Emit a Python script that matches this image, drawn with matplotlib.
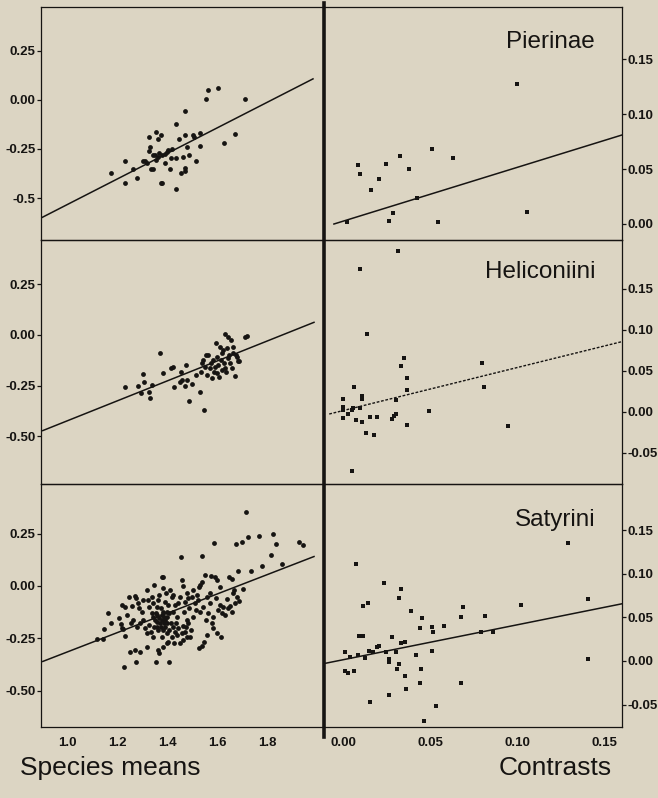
import numpy as np
import matplotlib
matplotlib.use("Agg")
import matplotlib.pyplot as plt
from matplotlib.lines import Line2D

plt.rcParams['font.family'] = ['Liberation Sans', 'DejaVu Sans']

BG = '#dcd5c3'
INK = '#161412'

# Species means (x = log size, y = residual trait)
pierinae_means = [
    (1.175, -0.374), (1.231, -0.310), (1.231, -0.422), (1.263, -0.354), (1.280, -0.398),
    (1.305, -0.310), (1.313, -0.310), (1.320, -0.320), (1.328, -0.190), (1.331, -0.238),
    (1.328, -0.259), (1.335, -0.354), (1.345, -0.354), (1.345, -0.281), (1.353, -0.281),
    (1.356, -0.163), (1.364, -0.201), (1.365, -0.289), (1.368, -0.272), (1.375, -0.422),
    (1.377, -0.179), (1.380, -0.422), (1.381, -0.281), (1.392, -0.276), (1.392, -0.323),
    (1.401, -0.264), (1.412, -0.354), (1.416, -0.298), (1.421, -0.252), (1.436, -0.298),
    (1.436, -0.124), (1.437, -0.456), (1.449, -0.201), (1.455, -0.374), (1.464, -0.289),
    (1.471, -0.349), (1.473, -0.056), (1.473, -0.179), (1.473, -0.361), (1.479, -0.238),
    (1.487, -0.279), (1.505, -0.179), (1.509, -0.187), (1.517, -0.310), (1.532, -0.170),
    (1.532, -0.235), (1.556, 0.003), (1.565, 0.051), (1.605, 0.061), (1.629, -0.218),
    (1.673, -0.175), (1.712, 0.007), (1.357, -0.306), (1.405, -0.255),
]

heliconiini_means = [
    (1.233, -0.258), (1.285, -0.251), (1.296, -0.288), (1.305, -0.194), (1.309, -0.230),
    (1.328, -0.279), (1.331, -0.309), (1.339, -0.247), (1.371, -0.090), (1.384, -0.189),
    (1.416, -0.164), (1.425, -0.156), (1.428, -0.258), (1.452, -0.230), (1.455, -0.184),
    (1.461, -0.222), (1.473, -0.250), (1.476, -0.148), (1.481, -0.222), (1.489, -0.325),
    (1.499, -0.243), (1.515, -0.197), (1.532, -0.279), (1.535, -0.181), (1.539, -0.140),
    (1.543, -0.123), (1.547, -0.370), (1.552, -0.156), (1.556, -0.099), (1.559, -0.197),
    (1.565, -0.099), (1.572, -0.164), (1.576, -0.140), (1.579, -0.214), (1.585, -0.123),
    (1.589, -0.181), (1.592, -0.156), (1.596, -0.041), (1.599, -0.107), (1.601, -0.189),
    (1.605, -0.148), (1.609, -0.205), (1.612, -0.058), (1.615, -0.123), (1.619, -0.173),
    (1.621, -0.090), (1.625, -0.074), (1.628, -0.140), (1.631, -0.164), (1.633, 0.003),
    (1.636, -0.181), (1.639, -0.066), (1.643, -0.008), (1.645, -0.115), (1.649, -0.099),
    (1.652, -0.140), (1.656, -0.025), (1.659, -0.164), (1.663, -0.058), (1.665, -0.090),
    (1.672, -0.202), (1.676, -0.099), (1.681, -0.107), (1.685, -0.127), (1.689, -0.131),
    (1.712, -0.012), (1.719, -0.005),
]

satyrini_means = [
    # lower-left outliers
    (1.119, -0.255), (1.145, -0.255), (1.148, -0.205), (1.165, -0.131), (1.175, -0.175),
    (1.209, -0.154), (1.215, -0.182), (1.219, -0.202), (1.225, -0.207), (1.232, -0.239),
    (1.228, -0.385), (1.252, -0.318), (1.272, -0.306), (1.276, -0.365), (1.292, -0.317),
    (1.319, -0.290), (1.356, -0.365), (1.409, -0.365), (1.365, -0.306), (1.369, -0.322),
    (1.385, -0.290), (1.399, -0.274), (1.405, -0.266),
    # upper part of main cloud
    (1.219, -0.091), (1.232, -0.099), (1.249, -0.051), (1.259, -0.096), (1.272, -0.048),
    (1.276, -0.059), (1.285, -0.083), (1.289, -0.107), (1.299, -0.123), (1.305, -0.067),
    (1.319, -0.019), (1.325, -0.067), (1.329, -0.102), (1.339, -0.051), (1.345, -0.083),
    (1.348, 0.005), (1.356, -0.127), (1.359, -0.099), (1.365, -0.067), (1.369, -0.043),
    (1.375, -0.107), (1.379, 0.041), (1.383, 0.045), (1.385, -0.011), (1.388, -0.147),
    (1.392, -0.075), (1.396, -0.035), (1.399, -0.123), (1.405, -0.091), (1.412, -0.019),
    (1.415, -0.178), (1.419, -0.054), (1.423, -0.123), (1.425, -0.043), (1.432, -0.091),
    (1.436, -0.178), (1.441, -0.147), (1.445, -0.083), (1.452, -0.051), (1.459, 0.029),
    (1.463, 0.000), (1.468, -0.123), (1.472, -0.075), (1.476, -0.194), (1.479, -0.035),
    (1.481, -0.162), (1.485, -0.059), (1.489, -0.107), (1.492, -0.242), (1.495, -0.210),
    (1.499, -0.051), (1.503, -0.019), (1.505, -0.147), (1.512, -0.083), (1.516, -0.115),
    (1.519, -0.043), (1.525, -0.067), (1.529, -0.003),
    # lower part of main cloud
    (1.239, -0.139), (1.255, -0.178), (1.265, -0.162), (1.279, -0.194), (1.292, -0.178),
    (1.305, -0.162), (1.312, -0.202), (1.319, -0.226), (1.329, -0.186), (1.335, -0.218),
    (1.343, -0.242), (1.348, -0.194), (1.359, -0.170), (1.365, -0.210), (1.372, -0.178),
    (1.379, -0.242), (1.385, -0.210), (1.392, -0.194), (1.399, -0.226), (1.409, -0.210),
    (1.419, -0.242), (1.425, -0.194), (1.432, -0.218), (1.439, -0.234), (1.445, -0.202),
    (1.452, -0.271), (1.459, -0.223), (1.465, -0.191), (1.472, -0.218), (1.479, -0.242),
    (1.485, -0.178), (1.463, -0.258), (1.428, -0.274),
    (1.339, -0.131), (1.345, -0.147), (1.352, -0.162), (1.361, -0.139), (1.369, -0.154),
    (1.379, -0.139), (1.385, -0.123), (1.392, -0.162), (1.401, -0.147), (1.409, -0.131),
    (1.379, -0.162), (1.359, -0.194), (1.375, -0.194), (1.388, -0.178), (1.399, -0.178),
    # right-hand cloud
    (1.532, -0.123), (1.539, 0.018), (1.532, 0.005), (1.545, -0.099), (1.552, 0.051),
    (1.556, -0.162), (1.559, -0.054), (1.565, -0.131), (1.572, -0.035), (1.575, 0.048),
    (1.572, -0.080), (1.579, -0.178), (1.585, -0.147), (1.592, 0.041), (1.596, -0.059),
    (1.601, 0.029), (1.605, -0.115), (1.612, -0.003), (1.612, -0.091), (1.615, -0.242),
    (1.619, -0.131), (1.625, -0.099), (1.632, -0.139), (1.639, -0.064), (1.645, -0.107),
    (1.652, -0.096), (1.659, -0.123), (1.665, -0.035), (1.672, -0.083), (1.679, -0.054),
    (1.687, -0.072), (1.529, -0.295), (1.539, -0.285), (1.548, -0.269), (1.585, -0.202),
    (1.599, -0.226), (1.561, -0.234), (1.649, 0.041), (1.661, 0.034), (1.668, -0.019),
    (1.705, -0.013), (1.685, 0.069), (1.736, 0.072), (1.779, 0.094), (1.816, 0.147),
    (1.860, 0.104),
    # upper outliers
    (1.455, 0.137), (1.541, 0.143), (1.587, 0.204), (1.675, 0.201), (1.699, 0.209),
    (1.715, 0.352), (1.724, 0.236), (1.768, 0.240), (1.823, 0.248), (1.836, 0.199),
    (1.928, 0.210), (1.945, 0.194),
]

# Independent contrasts
pierinae_contrasts = [
    (0.0021, 0.0015), (0.0086, 0.0537), (0.0096, 0.0453), (0.0161, 0.0307),
    (0.0209, 0.0407), (0.0245, 0.0546), (0.0262, 0.0024), (0.0289, 0.0097),
    (0.0326, 0.0619), (0.0377, 0.0501), (0.0425, 0.0234), (0.0510, 0.0683),
    (0.0548, 0.0015), (0.0632, 0.0604), (0.1002, 0.1275), (0.1056, 0.0109),
]

heliconiini_contrasts = [
    (0.0318, 0.196), (0.0096, 0.174), (0.0140, 0.0943), (0.0351, 0.0654),
    (0.0335, 0.0557), (0.0366, 0.0415), (0.0366, 0.0260), (0.0307, 0.0138),
    (0.0063, 0.0297), (0.0002, 0.0154), (0.0002, 0.0061), (0.0002, 0.0020),
    (-0.0002, -0.0073), (0.0031, -0.0028), (0.0050, 0.0020), (0.0059, 0.0041),
    (0.0098, 0.0041), (0.0109, 0.0150), (0.0111, 0.0191), (0.0075, -0.0106),
    (0.0109, -0.0126), (0.0155, -0.0069), (0.0197, -0.0061), (0.0130, -0.0260),
    (0.0180, -0.0289), (0.0054, -0.0720), (0.0280, -0.0093), (0.0293, -0.0049),
    (0.0307, -0.0028), (0.0368, -0.0167), (0.0492, 0.0008), (0.0797, 0.0598),
    (0.0810, 0.0305), (0.0946, -0.0175),
]

satyrini_contrasts = [
    (0.0013, 0.0099), (0.0013, -0.0115), (0.0027, -0.0134), (0.0061, -0.0111),
    (0.0040, 0.0042), (0.0073, 0.1111), (0.0084, 0.0069), (0.0090, 0.0286),
    (0.0117, 0.0290), (0.0117, 0.0630), (0.0142, 0.0660), (0.0126, 0.0038),
    (0.0149, 0.0118), (0.0155, -0.0466), (0.0174, 0.0107), (0.0193, 0.0164),
    (0.0209, 0.0176), (0.0236, 0.0889), (0.0247, 0.0099), (0.0262, 0.0023),
    (0.0266, -0.0008), (0.0264, -0.0389), (0.0282, 0.0279), (0.0305, 0.0107),
    (0.0310, -0.0088), (0.0324, -0.0038), (0.0320, 0.0725), (0.0333, 0.0821),
    (0.0335, 0.0202), (0.0358, 0.0214), (0.0356, -0.0168), (0.0364, -0.0324),
    (0.0389, 0.0576), (0.0421, 0.0069), (0.0441, -0.0256), (0.0443, 0.0374),
    (0.0448, -0.0095), (0.0456, 0.0496), (0.0464, -0.0683), (0.0511, 0.0393),
    (0.0515, 0.0328), (0.0511, 0.0118), (0.0534, -0.0511), (0.0582, 0.0401),
    (0.0680, 0.0508), (0.0680, -0.0256), (0.0690, 0.0618), (0.0791, 0.0328),
    (0.0814, 0.0515), (0.0862, 0.0336), (0.1025, 0.0637), (0.1293, 0.1355),
    (0.1410, 0.0710), (0.1406, 0.0023),
]

# Fitted lines: (intercept, slope, x_start, x_end)
means_fits = [(-1.186, 0.652, 0.896, 1.984),
              (-0.916, 0.492, 0.903, 1.988),
              (-0.778, 0.462, 0.903, 1.988)]
contrast_fits = [(0.0025, 0.490, -0.0052, 0.160),
                 (0.0013, 0.525, -0.0079, 0.160),
                 (0.0014, 0.400, -0.0103, 0.160)]

group_names = ['Pierinae', 'Heliconiini', 'Satyrini']

means_yticks = [[0.25, 0.0, -0.25, -0.5], [0.25, 0.0, -0.25, -0.5], [0.25, 0.0, -0.25, -0.5]]
means_ylabels = [['0.25', '0.00', '-0.25', '-0.5'],
                 ['0.25', '0.00', '-0.25', '-0.50'],
                 ['0.25', '0.00', '-0.25', '-0.50']]
means_ylims = [(-0.714, 0.474), (-0.735, 0.468), (-0.674, 0.487)]

contrast_yticks = [[0.0, 0.05, 0.10, 0.15],
                   [-0.05, 0.0, 0.05, 0.10, 0.15],
                   [-0.05, 0.0, 0.05, 0.10, 0.15]]
contrast_ylabels = [['0.00', '0.05', '0.10', '0.15'],
                    ['-0.05', '0.00', '0.05', '0.10', '0.15'],
                    ['-0.05', '0.00', '0.05', '0.10', '0.15']]
contrast_ylims = [(-0.0146, 0.1976), (-0.0882, 0.2094), (-0.0756, 0.2027)]

means_xticks = [1.0, 1.2, 1.4, 1.6, 1.8]
means_xlabels = ['1.0', '1.2', '1.4', '1.6', '1.8']
contrast_xticks = [0.0, 0.05, 0.10, 0.15]
contrast_xlabels = ['0.00', '0.05', '0.10', '0.15']

means_data = [pierinae_means, heliconiini_means, satyrini_means]
contrast_data = [pierinae_contrasts, heliconiini_contrasts, satyrini_contrasts]

W, H = 658, 798
fig = plt.figure(figsize=(W / 100, H / 100), dpi=100, facecolor=BG)

# pixel layout of the grid
col_x = [(41, 324), (324, 622)]
row_y = [(7, 240), (240, 484), (484, 727)]


def px_axes(x0, x1, y0, y1):
    return fig.add_axes([x0 / W, 1 - y1 / H, (x1 - x0) / W, (y1 - y0) / H])


tick_font = dict(fontsize=9.5, fontweight='bold', color=INK)

for r in range(3):
    y0, y1 = row_y[r]

    # left column: species means
    ax = px_axes(col_x[0][0], col_x[0][1], y0, y1)
    ax.set_facecolor('none')
    pts = np.array(means_data[r])
    ax.scatter(pts[:, 0], pts[:, 1], s=12, marker='o', color=INK, linewidths=0)
    b0, b1, xs, xe = means_fits[r]
    xl = np.array([xs, xe])
    ax.plot(xl, b0 + b1 * xl, color=INK, lw=1.1)
    ax.set_xlim(0.896, 2.028)
    ax.set_ylim(*means_ylims[r])
    ax.set_yticks(means_yticks[r])
    ax.set_yticklabels(means_ylabels[r], **tick_font)
    ax.tick_params(axis='y', direction='out', length=3, width=0.9, pad=1, color=INK)
    if r == 2:
        ax.set_xticks(means_xticks)
        ax.set_xticklabels(means_xlabels, **tick_font)
        ax.tick_params(axis='x', length=0, pad=7)
    else:
        ax.set_xticks([])
    ax.spines['right'].set_visible(False)
    for s in ['left', 'top', 'bottom']:
        ax.spines[s].set_linewidth(0.9)
        ax.spines[s].set_color(INK)

    # right column: contrasts
    ax2 = px_axes(col_x[1][0], col_x[1][1], y0, y1)
    ax2.set_facecolor('none')
    pts = np.array(contrast_data[r])
    ax2.scatter(pts[:, 0], pts[:, 1], s=12, marker='s', color=INK, linewidths=0)
    b0, b1, xs, xe = contrast_fits[r]
    xl = np.array([xs, xe])
    if r == 1:
        ax2.plot(xl, b0 + b1 * xl, color=INK, lw=1.0, linestyle=(0, (2, 1.2)))
    else:
        ax2.plot(xl, b0 + b1 * xl, color=INK, lw=1.1)
    ax2.set_xlim(-0.0109, 0.1603)
    ax2.set_ylim(*contrast_ylims[r])
    ax2.yaxis.tick_right()
    ax2.set_yticks(contrast_yticks[r])
    ax2.set_yticklabels(contrast_ylabels[r], **tick_font)
    ax2.tick_params(axis='y', direction='out', length=3, width=0.9, pad=1, color=INK)
    if r == 2:
        ax2.set_xticks(contrast_xticks)
        ax2.set_xticklabels(contrast_xlabels, **tick_font)
        ax2.tick_params(axis='x', length=0, pad=7)
    else:
        ax2.set_xticks([])
    ax2.spines['left'].set_visible(False)
    for s in ['right', 'top', 'bottom']:
        ax2.spines[s].set_linewidth(0.9)
        ax2.spines[s].set_color(INK)
    ax2.text(0.91, [0.85, 0.869, 0.852][r], group_names[r], transform=ax2.transAxes,
             ha='right', va='center', fontsize=17.5, color=INK)

# thick divider between the two columns
fig.add_artist(Line2D([324 / W, 324 / W], [1 - 3 / H, 1 - 737 / H],
                      transform=fig.transFigure, color=INK, lw=2.6))

fig.text(20 / W, 1 - 768 / H, 'Species means', ha='left', va='center',
         fontsize=19, color=INK)
fig.text(612 / W, 1 - 768 / H, 'Contrasts', ha='right', va='center',
         fontsize=19, color=INK)

fig.savefig('out.png', dpi=100, facecolor=BG)
